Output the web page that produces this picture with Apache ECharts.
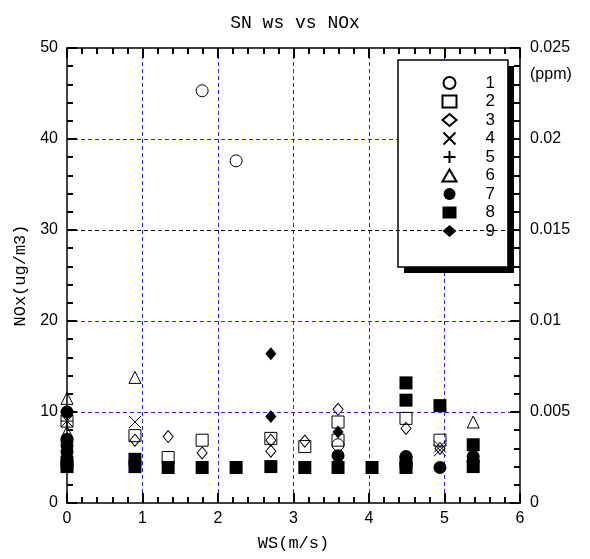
<!DOCTYPE html>
<html>
<head>
<meta charset="utf-8">
<script src="https://cdn.jsdelivr.net/npm/echarts@6/dist/echarts.min.js"></script>
<style>
  html, body { margin: 0; padding: 0; background: #fff; }
  #chart { width: 590px; height: 559px; }
</style>
</head>
<body>
<div id="chart"></div>
<script>
// WS (m/s) vs NOx (ug/m3), one array per legend entry
const s1 = [[1.79, 45.3], [2.24, 37.6], [3.59, 6.4], [0, 6.8]];
const s2 = [[0, 9.0], [0.9, 7.4], [1.34, 5.0], [1.79, 6.9], [2.7, 7.1], [3.15, 6.2], [3.59, 8.9], [3.59, 6.9], [4.49, 9.3], [4.94, 6.9]];
const s3 = [[0, 5.6], [0.9, 6.9], [1.34, 7.3], [1.79, 5.5], [2.7, 6.9], [2.7, 5.7], [3.15, 6.8], [3.59, 10.3], [4.49, 8.2], [4.94, 6.0]];
const s4 = [[0, 9.0], [0.9, 8.9], [4.94, 6.2], [4.94, 5.8]];
const s5 = [[0, 9.0]];
const s6 = [[0, 11.5], [0, 7.8], [0.9, 13.8], [5.38, 8.9]];
const s7 = [[0, 10.0], [0, 7.0], [0, 6.3], [0, 5.6], [3.59, 5.2], [4.49, 5.1], [4.49, 4.3], [4.94, 3.9], [5.38, 5.1], [5.38, 4.6]];
const s8 = [[0, 4.0], [0, 4.5], [0.9, 4.0], [0.9, 4.8], [1.34, 3.9], [1.79, 3.9], [2.24, 3.9], [2.7, 4.0], [3.15, 3.9], [3.59, 3.9], [4.04, 3.9], [4.49, 13.2], [4.49, 11.3], [4.49, 3.9], [4.49, 4.5], [4.94, 10.7], [5.38, 6.4], [5.38, 4.0]];
const s9 = [[2.7, 16.4], [2.7, 9.5], [3.59, 7.8], [0.9, 4.3], [0, 5.2]];

const names = ['1', '2', '3', '4', '5', '6', '7', '8', '9'];
const datas = [s1, s2, s3, s4, s5, s6, s7, s8, s9];
const symbols = [
  'circle', 'rect', 'diamond',
  'path://M0,0L10,10M0,10L10,0',
  'path://M5,0L5,10M0,5L10,5',
  'triangle', 'circle', 'rect', 'diamond'
];
const sizes = [12, 12, [10, 12], 12, 12, 12, 13, 13, [11, 13]];
const filled = [false, false, false, false, false, false, true, true, true];

const chart = echarts.init(document.getElementById('chart'));

const numFont = { fontFamily: 'Liberation Sans', fontSize: 16, color: '#000' };
const monoFont = { fontFamily: 'Liberation Mono', fontSize: 17, color: '#000' };
const tickColor = 'rgb(1,1,1)';
const gridLine = () => ({ show: true, showMinLine: false, showMaxLine: false, lineStyle: { color: '#2a2ae0', type: [4, 3], width: 1 } });
const blackLine = () => ({ show: true, onZero: false, lineStyle: { color: '#000', width: 1.5 } });
const tick = () => ({ show: true, inside: true, length: 10, lineStyle: { color: tickColor, width: 2 } });
const minor = () => ({ show: true, splitNumber: 5, length: 6, lineStyle: { color: tickColor, width: 2 } });

const series = names.map((n, i) => ({
  name: n,
  type: 'scatter',
  xAxisIndex: 0,
  yAxisIndex: 0,
  symbol: symbols[i],
  symbolSize: sizes[i],
  data: datas[i],
  z: filled[i] ? 3 : 4,
  emphasis: { disabled: true },
  itemStyle: filled[i]
    ? { color: '#000', borderColor: '#000', borderWidth: 0, opacity: 1 }
    : { color: 'none', borderColor: '#000', borderWidth: 1, opacity: 1 }
}));

// the 30 line is drawn black in the original
series[7].markLine = {
  silent: true,
  symbol: ['none', 'none'],
  label: { show: false },
  lineStyle: { color: '#000', type: [4, 3], width: 1 },
  data: [{ yAxis: 30 }]
};

chart.setOption({
  animation: false,
  title: {
    text: 'SN ws vs NOx',
    left: 'center',
    top: 9,
    textStyle: { fontFamily: 'Liberation Mono', fontSize: 18, fontWeight: 'normal', color: '#000' }
  },
  grid: { left: 67, right: 70, top: 48, bottom: 56 },
  graphic: [
    // drop shadow behind the legend box
    { type: 'rect', z: 1, shape: { x: 404, y: 66, width: 110, height: 207 }, style: { fill: '#000' } },
    { type: 'text', left: 530, top: 67, style: { text: '(ppm)', font: '16px "Liberation Sans"', fill: '#000' } }
  ],
  legend: {
    orient: 'vertical',
    left: 398,
    top: 60,
    z: 5,
    padding: [14.5, 13, 27.5, 42],
    itemWidth: 14,
    itemHeight: 12,
    itemGap: 1.5,
    backgroundColor: '#fff',
    borderColor: '#000',
    borderWidth: 1.5,
    textStyle: { fontFamily: 'Liberation Sans', fontSize: 17, color: '#000', padding: [0, 0, 0, 24] },
    data: names
  },
  xAxis: [
    {
      type: 'value', position: 'bottom', min: 0, max: 6, interval: 1,
      name: 'WS(m/s)', nameLocation: 'middle', nameGap: 32, nameTextStyle: monoFont,
      axisLine: blackLine(), axisTick: tick(), minorTick: minor(),
      splitLine: gridLine(),
      axisLabel: Object.assign({ margin: 8 }, numFont)
    },
    {
      type: 'value', position: 'top', min: 0, max: 6, interval: 1,
      axisLine: blackLine(), axisTick: tick(), minorTick: minor(),
      splitLine: { show: false }, axisLabel: { show: false }
    }
  ],
  yAxis: [
    {
      type: 'value', position: 'left', min: 0, max: 50, interval: 10,
      name: 'NOx(ug/m3)', nameLocation: 'middle', nameGap: 36, nameTextStyle: monoFont,
      axisLine: blackLine(), axisTick: tick(), minorTick: minor(),
      splitLine: gridLine(),
      axisLabel: Object.assign({ margin: 9 }, numFont)
    },
    {
      type: 'value', position: 'right', min: 0, max: 0.025, interval: 0.005,
      axisLine: blackLine(), axisTick: tick(), minorTick: minor(),
      splitLine: { show: false },
      axisLabel: Object.assign({ margin: 10 }, numFont)
    }
  ],
  series: series
});
</script>
</body>
</html>
